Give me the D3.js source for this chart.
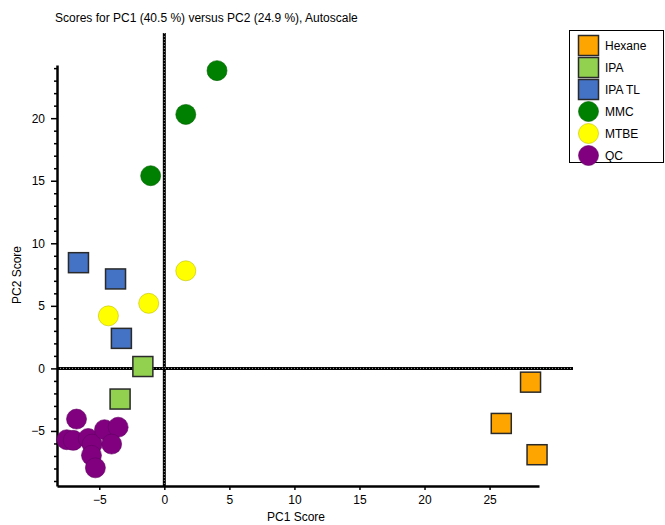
<!DOCTYPE html>
<html>
<head>
<meta charset="utf-8">
<script src="https://cdn.jsdelivr.net/npm/d3@7"></script>
<style>
  body { margin: 0; background: #fff; }
  text { font-family: "Liberation Sans", Arial, sans-serif; fill: #000; }
</style>
</head>
<body>
<div id="chart"></div>
<script>
// ---- data ----
var groups = ["Hexane", "IPA", "IPA TL", "MMC", "MTBE", "QC"];
var groupShapes = ["square", "square", "square", "circle", "circle", "circle"];
var groupColors = ["#FFA500", "#92D050", "#4472C4", "#008000", "#FFFF00", "#800080"];

var hexaneX = [28.15, 25.9, 28.65];
var hexaneY = [-1.1, -4.4, -6.9];
var ipaX = [-1.65, -3.4];
var ipaY = [0.15, -2.45];
var ipaTlX = [-6.6, -3.75, -3.3];
var ipaTlY = [8.45, 7.15, 2.4];
var mmcX = [4.05, 1.65, -1.05];
var mmcY = [23.8, 20.3, 15.4];
var mtbeX = [1.65, -1.2, -4.3];
var mtbeY = [7.8, 5.2, 4.2];
var qcX = [-6.75, -7.5, -7.0, -5.85, -5.55, -4.6, -3.55, -4.05, -5.6, -5.3];
var qcY = [-4.05, -5.7, -5.75, -5.6, -6.05, -4.9, -4.7, -6.05, -6.95, -7.95];

var xMajor = [-5, 0, 5, 10, 15, 20, 25];
var yMajor = [-5, 0, 5, 10, 15, 20];

var titleText = "Scores for PC1 (40.5 %) versus PC2 (24.9 %), Autoscale";

// ---- build ----
var width = 665, height = 525;
var svg = d3.select("#chart").append("svg")
  .attr("width", width)
  .attr("height", height);

var x = d3.scaleLinear().domain([-8.25, 28.8]).range([57, 539]);
var y = d3.scaleLinear().domain([-9.4, 24.25]).range([486, 65]);

// title
svg.append("text")
  .attr("x", 55).attr("y", 22)
  .style("font-size", "12px")
  .text(titleText);

// zero lines (dotted, thick)
function zeroLine(x1, y1, x2, y2) {
  svg.append("line")
    .attr("x1", x1).attr("y1", y1).attr("x2", x2).attr("y2", y2)
    .attr("stroke", "#000").attr("stroke-width", 3);
  svg.append("line")
    .attr("x1", x1).attr("y1", y1).attr("x2", x2).attr("y2", y2)
    .attr("stroke", "#fff").attr("stroke-width", 1)
    .attr("stroke-dasharray", "1,2").attr("opacity", 0.6);
}
zeroLine(x(0), 33, x(0), 486);
zeroLine(57, y(0), 573, y(0));

// y axis: minor ticks every unit, major every 5
var yMinor = d3.range(-9, 25).filter(function (v) { return v % 5 !== 0; });
svg.append("g")
  .attr("transform", "translate(57,0)")
  .call(d3.axisLeft(y).tickValues(yMinor).tickSize(3).tickFormat(""))
  .call(function (g) { g.select(".domain").remove(); })
  .selectAll("line").attr("stroke-width", 1.5);

var yAxis = svg.append("g")
  .attr("transform", "translate(57,0)")
  .call(d3.axisLeft(y).tickValues(yMajor).tickSize(6).tickPadding(6).tickSizeOuter(0));
yAxis.select(".domain").attr("stroke-width", 2.5);
yAxis.selectAll("line").attr("stroke-width", 1.5);
yAxis.selectAll("text").style("font-size", "12px").attr("fill", "#000");

var xAxis = svg.append("g")
  .attr("transform", "translate(0,486)")
  .call(d3.axisBottom(x).tickValues(xMajor).tickSize(4).tickPadding(5).tickSizeOuter(0));
xAxis.select(".domain").attr("stroke-width", 2.5);
xAxis.selectAll("line").attr("stroke-width", 1.5);
xAxis.selectAll("text").style("font-size", "12px").attr("fill", "#000");

// axis labels
svg.append("text")
  .attr("x", 296).attr("y", 521)
  .attr("text-anchor", "middle")
  .style("font-size", "12px")
  .text("PC1 Score");

svg.append("text")
  .attr("transform", "translate(21,275) rotate(-90)")
  .attr("text-anchor", "middle")
  .style("font-size", "12px")
  .text("PC2 Score");

// points
var seriesX = [hexaneX, ipaX, ipaTlX, mmcX, mtbeX, qcX];
var seriesY = [hexaneY, ipaY, ipaTlY, mmcY, mtbeY, qcY];
var size = 20;

function drawMark(g, shape, color, cx, cy) {
  if (shape === "square") {
    g.append("rect")
      .attr("x", cx - size / 2).attr("y", cy - size / 2)
      .attr("width", size).attr("height", size)
      .attr("fill", color)
      .attr("stroke", "#2a2a2a").attr("stroke-width", 1.5);
  } else {
    g.append("circle")
      .attr("cx", cx).attr("cy", cy).attr("r", size / 2)
      .attr("fill", color)
      .attr("stroke", d3.color(color).darker(0.8)).attr("stroke-width", 0.6);
  }
}

var marks = svg.append("g");
groups.forEach(function (name, i) {
  seriesX[i].forEach(function (vx, j) {
    drawMark(marks, groupShapes[i], groupColors[i], x(vx), y(seriesY[i][j]));
  });
});

// legend
var legend = svg.append("g");
legend.append("rect")
  .attr("x", 569.5).attr("y", 30.5)
  .attr("width", 94).attr("height", 132)
  .attr("fill", "#fff").attr("stroke", "#000").attr("stroke-width", 1);

groups.forEach(function (name, i) {
  var ly = 45.5 + i * 22;
  drawMark(legend, groupShapes[i], groupColors[i], 588.5, ly);
  legend.append("text")
    .attr("x", 605).attr("y", ly)
    .attr("dy", "0.35em")
    .style("font-size", "12px")
    .text(name);
});
</script>
</body>
</html>
